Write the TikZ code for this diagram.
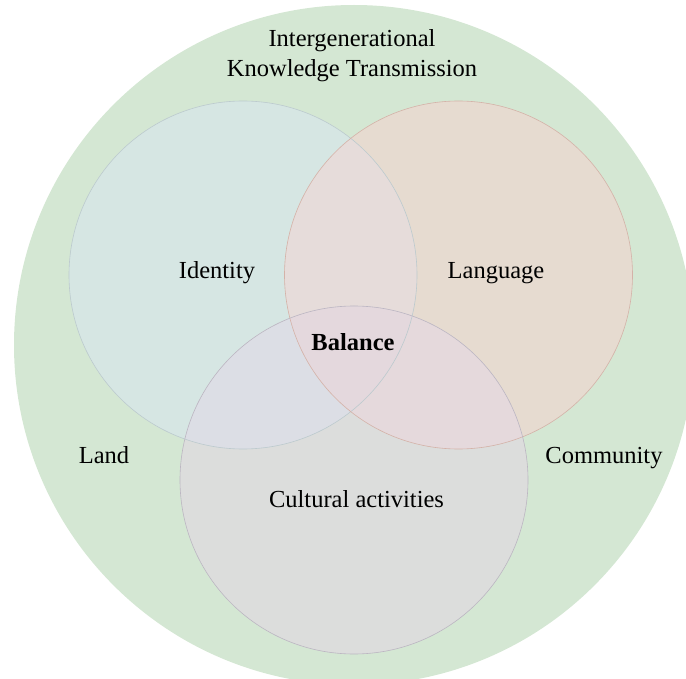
\documentclass[tikz,border=0pt]{standalone}
\usepackage{fontspec}
\setmainfont{Liberation Serif}
\usetikzlibrary{positioning}

\definecolor{outergreen}{RGB}{212,231,211}
\definecolor{idfill}{RGB}{214,230,227}
\definecolor{langfill}{RGB}{230,219,208}
\definecolor{cultfill}{RGB}{220,221,220}
\definecolor{idlang}{RGB}{230,220,218}
\definecolor{idcult}{RGB}{220,222,229}
\definecolor{langcult}{RGB}{229,217,220}
\definecolor{allthree}{RGB}{228,216,221}
\definecolor{idedge}{RGB}{188,202,206}
\definecolor{langedge}{RGB}{212,178,168}
\definecolor{cultedge}{RGB}{188,182,194}

\tikzset{
  ring/.style={circle,draw,inner sep=0pt,outer sep=0pt,minimum size=348pt,line width=0.6pt},
  lbl/.style={font=\fontsize{24.5}{30.5}\selectfont,inner sep=0pt,anchor=base}
}

\begin{document}
\begin{tikzpicture}[x=1pt,y=-1pt]
\useasboundingbox (0,0) rectangle (686,679);
\begin{scope}
  \clip (0,0) rectangle (686,679);
  \node [circle,fill=outergreen,minimum size=680pt,inner sep=0pt] (world) at (354,345) {};
\end{scope}

% fills of the three sets and their overlaps
\fill [idfill] (243,275) circle [radius=174pt];
\fill [langfill] (458.5,275) circle [radius=174pt];
\fill [cultfill] (354,480) circle [radius=174pt];
\begin{scope}
  \clip (243,275) circle [radius=174pt];
  \fill [idlang] (458.5,275) circle [radius=174pt];
  \fill [idcult] (354,480) circle [radius=174pt];
\end{scope}
\begin{scope}
  \clip (458.5,275) circle [radius=174pt];
  \fill [langcult] (354,480) circle [radius=174pt];
  \clip (243,275) circle [radius=174pt];
  \fill [allthree] (354,480) circle [radius=174pt];
\end{scope}

% outlines
\node [ring,draw=idedge] (identity) at (243,275) {};
\node [ring,draw=langedge] (language) at (458.5,275) {};
\node [ring,draw=cultedge] (cultural) at (354,480) {};

% labels
\node [lbl,anchor=center,align=center] (title) at (352,55.5) {Intergenerational\\Knowledge Transmission};
\node [lbl] (idtext) at (217,279) {Identity};
\node [lbl] (langtext) at (496,279) {Language};
\node [lbl,font=\fontsize{24.5}{30.5}\selectfont\bfseries] (balance) at (353,350) {Balance};
\node [lbl] (land) at (104,463) {Land};
\node [lbl] (community) at (604,463) {Community};
\node [lbl] (culttext) at (356.5,507) {Cultural activities};
\end{tikzpicture}
\end{document}
